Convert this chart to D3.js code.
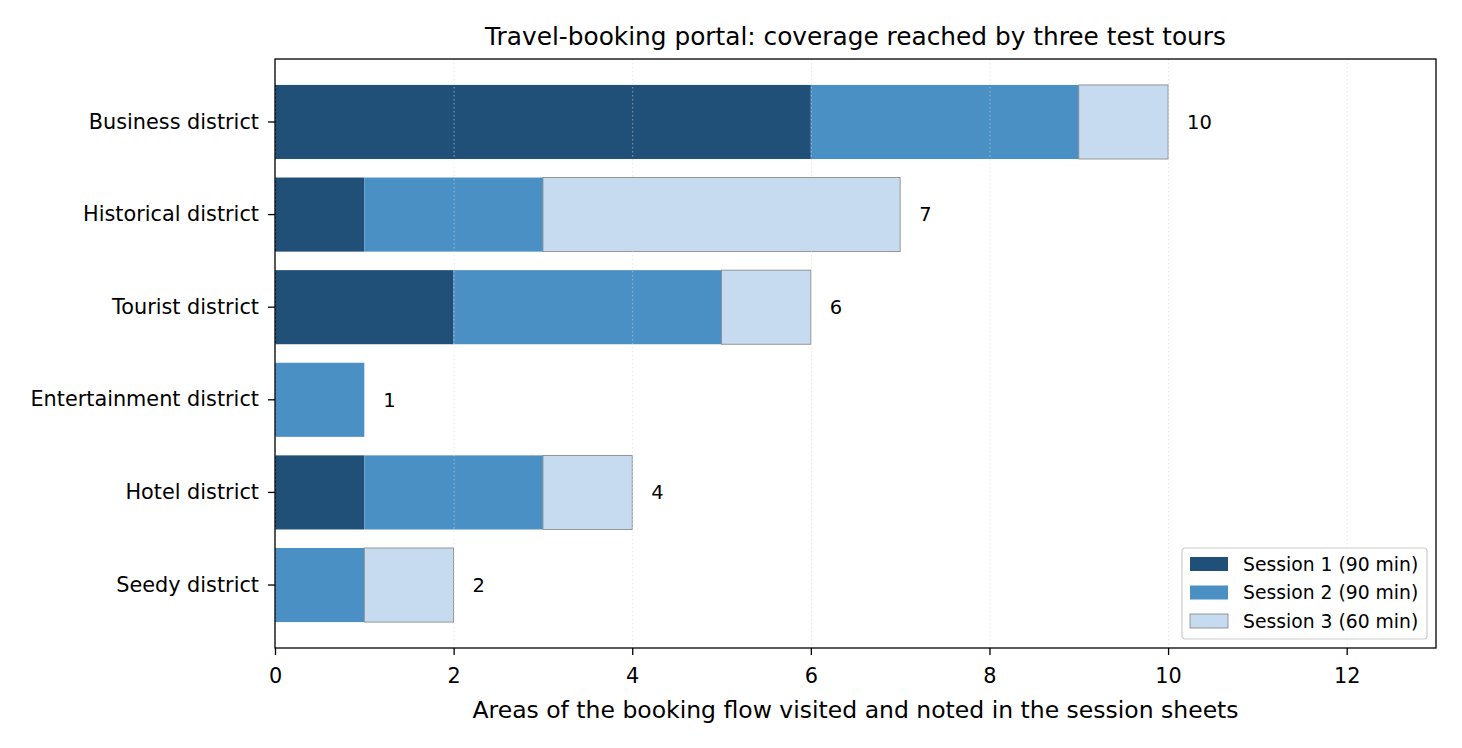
<html>
<head>
<script src="https://d3js.org/d3.v7.min.js"></script>
<style>
  body { margin: 0; background: #fff; }
  text { font-family: "DejaVu Sans", sans-serif; fill: #000; }
  .grids line { stroke: #d8d8d8; stroke-dasharray: 1.5,2.5; stroke-width: 1; opacity: 0.6; }
  .grids .domain { stroke: none; }
</style>
</head>
<body>
<svg id="plot1" width="1462" height="748"></svg>
<script>
// data
const districts = ['Business district', 'Historical district', 'Tourist district',
                   'Entertainment district', 'Hotel district', 'Seedy district'];
const session1 = [6, 1, 2, 0, 1, 0];
const session2 = [3, 2, 3, 1, 2, 1];
const session3 = [1, 4, 1, 0, 1, 1];
const sessionNames = ['Session 1 (90 min)', 'Session 2 (90 min)', 'Session 3 (60 min)'];
const xTicks = [0, 2, 4, 6, 8, 10, 12];

const colors = ['#204f78', '#4a90c4', '#c6dbef'];
const margin = {left: 275, top: 59, right: 26, bottom: 100};

let svg = d3.select('svg#plot1');
let width = +svg.attr('width'), height = +svg.attr('height');
let innerW = width - margin.left - margin.right;
let innerH = height - margin.top - margin.bottom;

let x = d3.scaleLinear().domain([0, 13]).range([0, innerW]);
let y = d3.scaleBand().domain(districts).range([0, innerH])
          .paddingInner(0.2).paddingOuter(0.28);

let plot = svg.append('g').attr('transform', `translate(${margin.left},${margin.top})`);

// stacked rows
const series = [session1, session2, session3];
const rows = districts.map((d, i) => {
  let start = 0;
  const segs = series.map((s, k) => {
    const seg = {district: d, k: k, x0: start, x1: start + s[i]};
    start += s[i];
    return seg;
  });
  return {district: d, total: start, segs: segs};
});

plot.selectAll('g.row')
  .data(rows)
  .join('g')
  .attr('class', 'row')
  .selectAll('rect')
  .data(r => r.segs.filter(s => s.x1 > s.x0))
  .join('rect')
  .attr('x', s => x(s.x0))
  .attr('y', s => y(s.district))
  .attr('width', s => x(s.x1) - x(s.x0))
  .attr('height', y.bandwidth())
  .attr('fill', s => colors[s.k])
  .attr('stroke', s => s.k === 2 ? '#808080' : 'none')
  .attr('stroke-width', 0.8);

// grid over bars, like the reference
plot.append('g')
  .attr('class', 'grids')
  .call(d3.axisBottom(x).tickValues(xTicks).tickFormat('').tickSize(innerH));

// totals
plot.selectAll('text.total')
  .data(rows)
  .join('text')
  .attr('class', 'total')
  .attr('x', r => x(r.total) + 19)
  .attr('y', r => y(r.district) + y.bandwidth() / 2)
  .attr('dy', '0.35em')
  .style('font-size', '19.5px')
  .text(r => r.total);

// axes
let xAxis = plot.append('g')
  .attr('transform', `translate(0,${innerH})`)
  .call(d3.axisBottom(x).tickValues(xTicks).tickSize(7).tickPadding(13));
xAxis.selectAll('text').style('font-size', '20.8px');

let yAxis = plot.append('g')
  .call(d3.axisLeft(y).tickSize(7).tickPadding(9));
yAxis.selectAll('text').style('font-size', '20.8px');

[xAxis, yAxis].forEach(a => {
  a.select('.domain').remove();
  a.selectAll('line').attr('stroke', '#000').attr('stroke-width', 1.3);
});

// frame
plot.append('rect')
  .attr('width', innerW).attr('height', innerH)
  .attr('fill', 'none').attr('stroke', '#000').attr('stroke-width', 1.3);

// title and label
svg.append('text')
  .attr('x', margin.left + innerW / 2).attr('y', 45)
  .attr('text-anchor', 'middle')
  .style('font-size', '24.8px')
  .text('Travel-booking portal: coverage reached by three test tours');

svg.append('text')
  .attr('x', margin.left + innerW / 2).attr('y', 718)
  .attr('text-anchor', 'middle')
  .style('font-size', '23.5px')
  .text('Areas of the booking flow visited and noted in the session sheets');

// legend
let legend = svg.append('g').attr('transform', 'translate(1182,548)');
legend.append('rect')
  .attr('width', 245).attr('height', 91).attr('rx', 3)
  .attr('fill', '#fff').attr('fill-opacity', 0.8)
  .attr('stroke', '#cccccc').attr('stroke-width', 1.2);

let items = legend.selectAll('g.item')
  .data(sessionNames)
  .join('g')
  .attr('class', 'item')
  .attr('transform', (d, i) => `translate(8,${16 + i * 28.5})`);

items.append('rect')
  .attr('x', 0).attr('y', -7)
  .attr('width', 38).attr('height', 14)
  .attr('fill', (d, i) => colors[i])
  .attr('stroke', (d, i) => i === 2 ? '#808080' : 'none')
  .attr('stroke-width', 0.8);

items.append('text')
  .attr('x', 53).attr('dy', '0.35em')
  .style('font-size', '18.75px')
  .text(d => d);
</script>
</body>
</html>
